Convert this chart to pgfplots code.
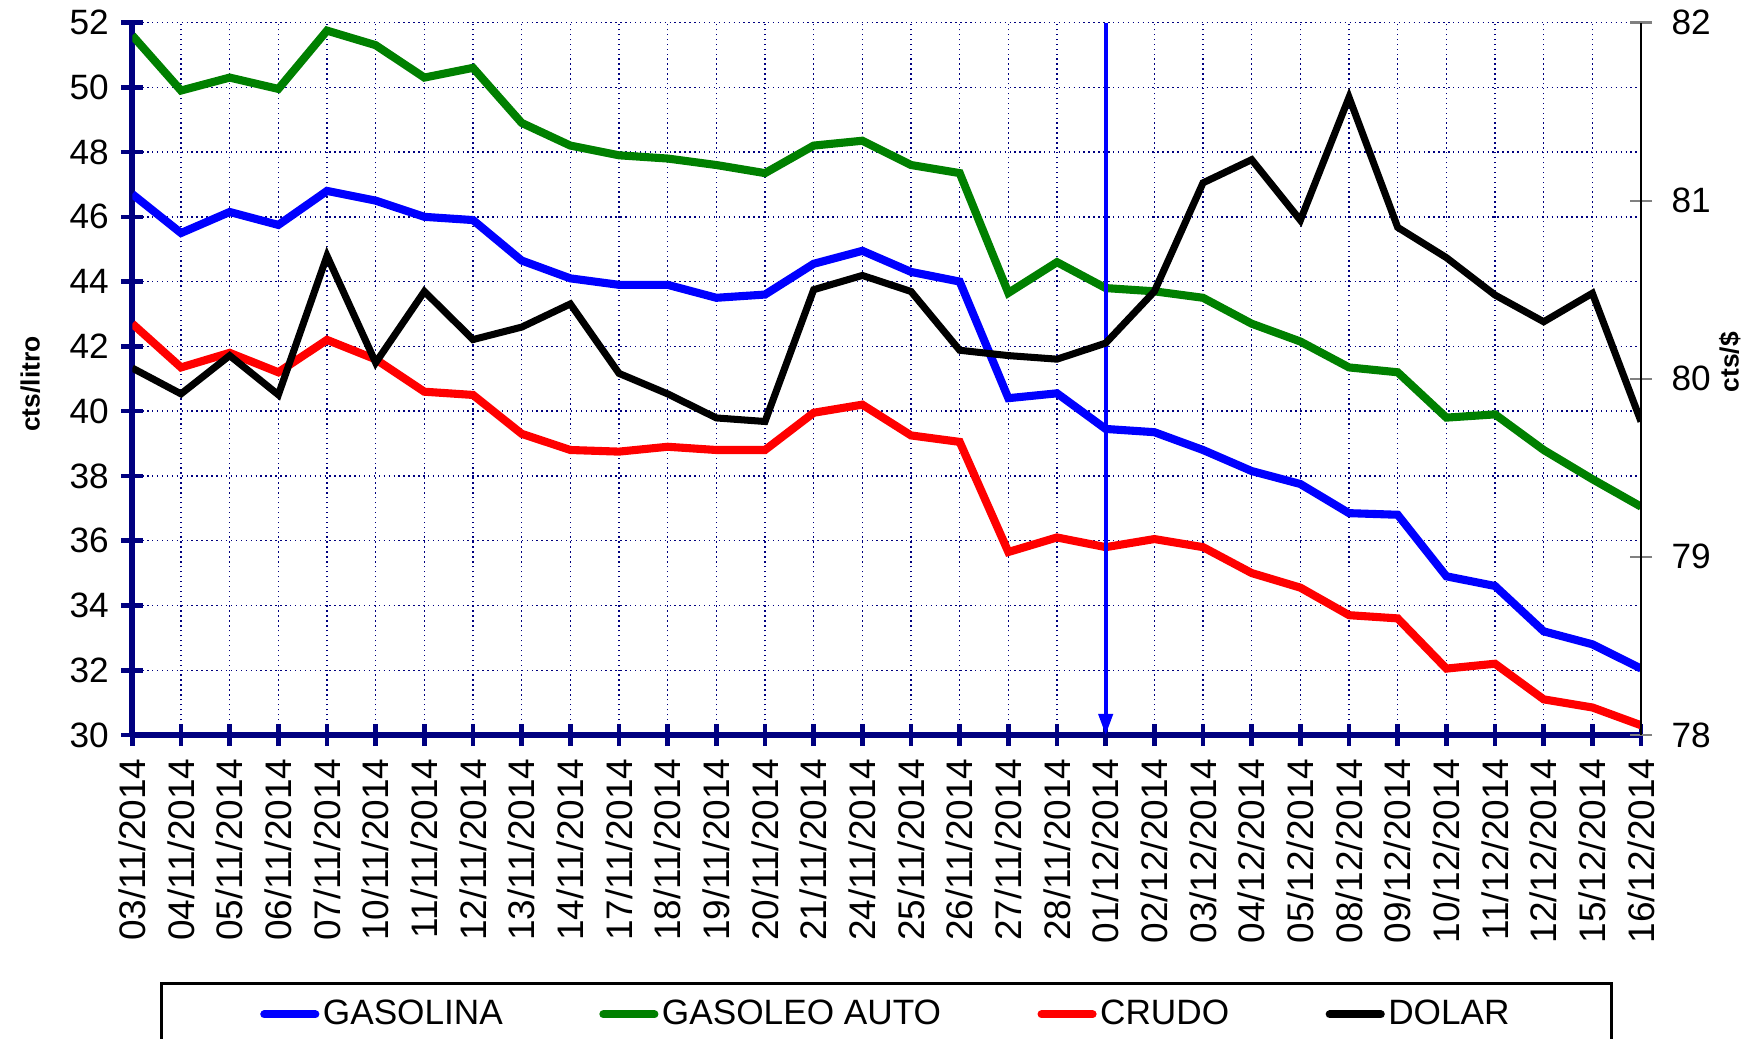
\documentclass[border=0pt]{standalone}
\usepackage{fontspec}
\setmainfont{Liberation Sans}
\usepackage{pgfplots}
\pgfplotsset{compat=1.18}
\usetikzlibrary{arrows.meta}
\definecolor{navy}{RGB}{0,0,128}
\definecolor{dgreen}{RGB}{0,128,0}
\begin{document}
\begin{tikzpicture}
\begin{axis}[name=a, at={(0,0)}, anchor=south west,
  scale only axis, width=428.6pt, height=202.4pt,
  xmin=0, xmax=31, ymin=30, ymax=52,
  xtick={0,...,31}, ytick={30,32,...,52},
  xticklabels={03/11/2014,04/11/2014,05/11/2014,06/11/2014,07/11/2014,10/11/2014,11/11/2014,12/11/2014,13/11/2014,14/11/2014,17/11/2014,18/11/2014,19/11/2014,20/11/2014,21/11/2014,24/11/2014,25/11/2014,26/11/2014,27/11/2014,28/11/2014,01/12/2014,02/12/2014,03/12/2014,04/12/2014,05/12/2014,08/12/2014,09/12/2014,10/12/2014,11/12/2014,12/12/2014,15/12/2014,16/12/2014},
  axis x line=bottom, axis y line=left,
  axis line style={draw=navy, line width=1.7pt, -},
  tick align=center, major tick length=6.3pt,
  tick style={navy, line width=1.3pt},
  grid=major, major grid style={densely dotted, navy, line width=0.4pt},
  /pgf/number format/assume math mode=true,
  yticklabel style={font=\fontsize{10}{12}\selectfont},
  xticklabel style={rotate=90, anchor=east, font=\fontsize{10.5}{12}\selectfont},
  ylabel={cts/litro},
  ylabel style={at={(axis description cs:-0.0677,0.4926)}, anchor=center, font=\bfseries\fontsize{7.5}{9}\selectfont},
  legend columns=4,
  legend style={at={(0.5,-0.347)}, anchor=north, draw=black, line width=0.8pt,
    inner xsep=28pt, inner ysep=3.5pt, font=\fontsize{10}{12}\selectfont,
    nodes={inner sep=1pt},
    /tikz/every even column/.append style={column sep=26.4pt}},
  legend image code/.code={\draw[#1, line width=2.3pt, line cap=round] (1pt,0pt) -- (15.5pt,0pt);},
]
\addplot[blue, line width=2.3pt] coordinates {
(0,46.7) (1,45.5) (2,46.15) (3,45.75) (4,46.8) (5,46.5) (6,46.0) (7,45.9)
(8,44.65) (9,44.1) (10,43.9) (11,43.9) (12,43.5) (13,43.6) (14,44.55) (15,44.95)
(16,44.3) (17,44.0) (18,40.4) (19,40.55) (20,39.45) (21,39.35) (22,38.8) (23,38.15)
(24,37.75) (25,36.85) (26,36.8) (27,34.9) (28,34.6) (29,33.2) (30,32.8) (31,32.05)};
\addlegendentry{GASOLINA}
\addplot[dgreen, line width=2.3pt] coordinates {
(0,51.6) (1,49.9) (2,50.3) (3,49.95) (4,51.75) (5,51.3) (6,50.3) (7,50.6)
(8,48.9) (9,48.2) (10,47.9) (11,47.8) (12,47.6) (13,47.35) (14,48.2) (15,48.35)
(16,47.6) (17,47.35) (18,43.65) (19,44.6) (20,43.8) (21,43.7) (22,43.5) (23,42.7)
(24,42.15) (25,41.35) (26,41.2) (27,39.8) (28,39.9) (29,38.8) (30,37.9) (31,37.05)};
\addlegendentry{GASOLEO AUTO}
\addplot[red, line width=2.3pt] coordinates {
(0,42.7) (1,41.35) (2,41.8) (3,41.2) (4,42.2) (5,41.6) (6,40.6) (7,40.5)
(8,39.3) (9,38.8) (10,38.75) (11,38.9) (12,38.8) (13,38.8) (14,39.95) (15,40.2)
(16,39.25) (17,39.05) (18,35.65) (19,36.1) (20,35.8) (21,36.05) (22,35.8) (23,35.0)
(24,34.55) (25,33.7) (26,33.6) (27,32.05) (28,32.2) (29,31.1) (30,30.85) (31,30.3)};
\addlegendentry{CRUDO}
\addlegendimage{black, line width=2pt}
\addlegendentry{DOLAR}
\addplot[blue, line width=1.1pt, -{Triangle[length=6pt,width=4pt]}, forget plot] coordinates {(20,52) (20,30)};
\end{axis}
\begin{axis}[at={(0,0)}, anchor=south west,
  scale only axis, width=428.6pt, height=202.4pt,
  xmin=0, xmax=31, ymin=78, ymax=82, ytick={78,...,82},
  axis x line=none, axis y line=right,
  axis line style={draw=black, line width=0.6pt, -},
  tick align=center, major tick length=6.3pt,
  ytick style={gray, line width=0.6pt},
  /pgf/number format/assume math mode=true,
  yticklabel style={font=\fontsize{10}{12}\selectfont, xshift=2pt},
  ylabel={cts/\$},
  ylabel style={at={(axis description cs:1.0588,0.523)}, anchor=center, font=\bfseries\fontsize{7.5}{9}\selectfont},
]
\addplot[black, line width=2pt] coordinates {
(0,80.06) (1,79.915) (2,80.13) (3,79.91) (4,80.69) (5,80.09) (6,80.49) (7,80.22)
(8,80.29) (9,80.42) (10,80.03) (11,79.915) (12,79.78) (13,79.76) (14,80.50) (15,80.58)
(16,80.49) (17,80.16) (18,80.13) (19,80.11) (20,80.20) (21,80.49) (22,81.10) (23,81.23)
(24,80.89) (25,81.58) (26,80.85) (27,80.68) (28,80.47) (29,80.32) (30,80.48) (31,79.76)};
\end{axis}
\pgfresetboundingbox
\path[use as bounding box] ([xshift=-37.6pt,yshift=-86.1pt]a.south west) rectangle ([xshift=33.8pt,yshift=6.4pt]a.north east);
\end{tikzpicture}
\end{document}
